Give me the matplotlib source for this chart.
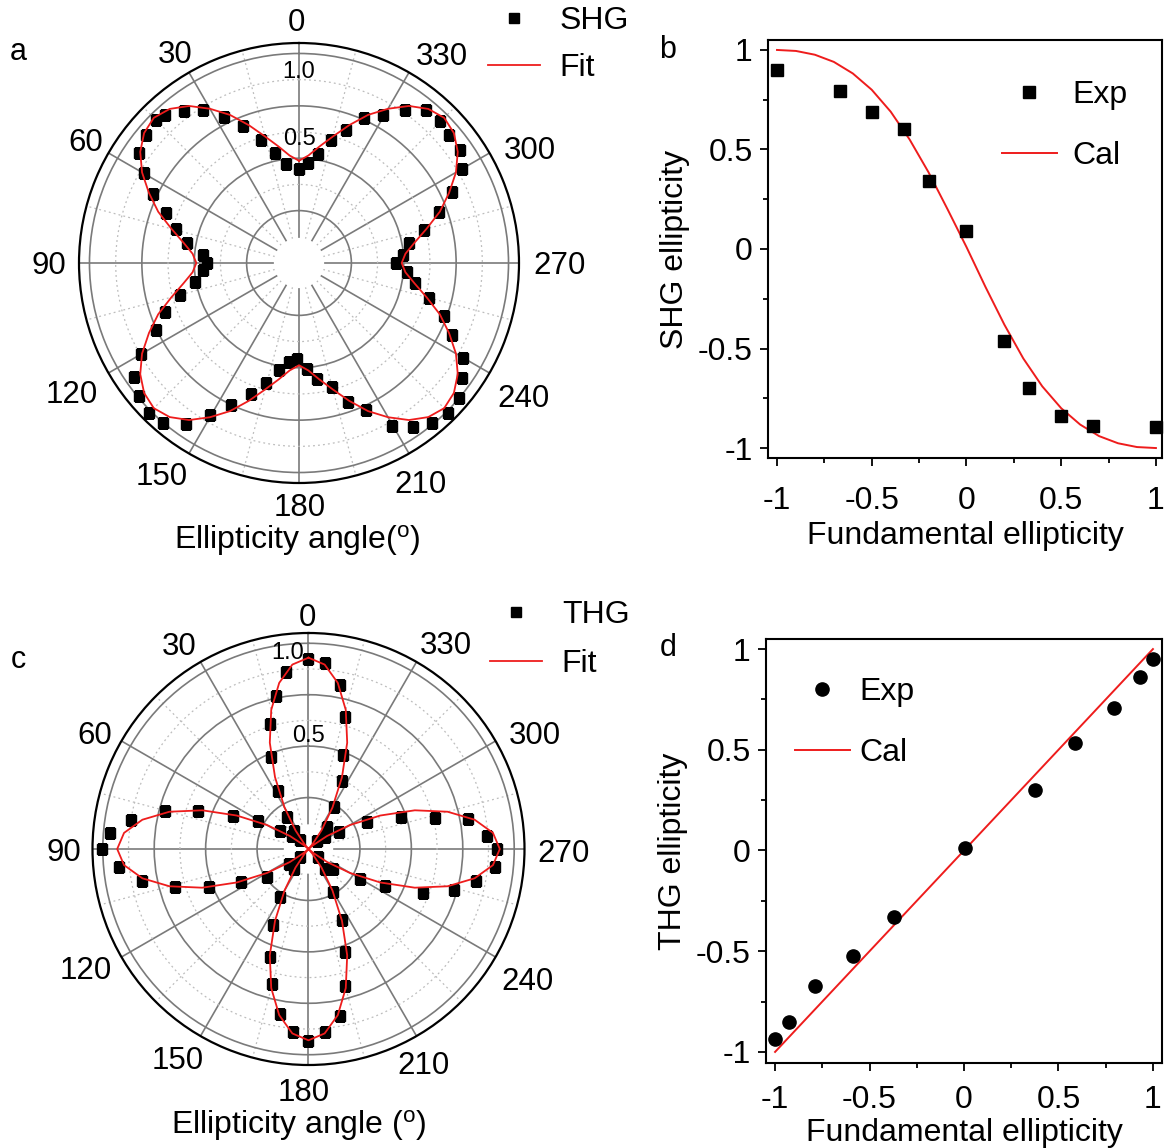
import numpy as np
import matplotlib
matplotlib.use("Agg")
import matplotlib.pyplot as plt
from matplotlib.ticker import FixedLocator, MultipleLocator, FuncFormatter
from matplotlib.lines import Line2D

plt.rcParams['font.family'] = ['Liberation Sans', 'DejaVu Sans']

# ---------------- data ----------------
# panel a: SHG polar (angle in degrees, normalized intensity)
shg_theta = [0, 7.5, 12.3, 17.2, 22.3, 27.2, 32.1, 37.2, 42.3, 45.1, 50.1, 55.3, 59.9, 64.7,
             69.5, 74.7, 79.8, 85.2, 90, 94.2, 100.2, 105, 110, 115.1, 119.9, 124.7, 129.8,
             134.9, 139.6, 144.8, 149.6, 154.6, 159.8, 164.6, 169.6, 174.4, 179, 184.2, 188.7,
             194.8, 199.6, 204.5, 209.6, 214.8, 219.7, 224.8, 229.8, 234.8, 239.8, 244.8, 249.9,
             254.7, 260, 265.4, 270, 274.4, 280.2, 284.9, 290.2, 295, 299.9, 305.2, 310.6,
             315.2, 320.3, 325.3, 330.5, 335.8, 340.6, 345.3, 350.4, 354.7]
shg_r = [0.448, 0.478, 0.536, 0.616, 0.709, 0.784, 0.861, 0.909, 0.952, 0.965, 0.954, 0.926,
         0.857, 0.771, 0.679, 0.61, 0.545, 0.46, 0.44, 0.459, 0.505, 0.59, 0.682, 0.756, 0.868,
         0.955, 0.991, 1.012, 1.003, 0.938, 0.843, 0.752, 0.664, 0.594, 0.521, 0.474, 0.456,
         0.505, 0.558, 0.612, 0.704, 0.773, 0.897, 0.954, 0.993, 1.01, 0.998, 0.952, 0.906,
         0.808, 0.735, 0.641, 0.563, 0.517, 0.463, 0.496, 0.535, 0.615, 0.71, 0.806, 0.898,
         0.938, 0.941, 0.953, 0.951, 0.89, 0.813, 0.759, 0.674, 0.608, 0.53, 0.479]
shg_fit_theta = list(range(0, 361, 5))
shg_fit_r = [0.488, 0.515, 0.565, 0.625, 0.70, 0.78, 0.85, 0.915, 0.96, 0.98, 0.965, 0.925,
             0.865, 0.79, 0.715, 0.63, 0.56, 0.51, 0.49, 0.51, 0.56, 0.63, 0.715, 0.79, 0.865,
             0.925, 0.965, 0.98, 0.96, 0.915, 0.85, 0.78, 0.70, 0.625, 0.565, 0.515, 0.488,
             0.515, 0.565, 0.625, 0.70, 0.78, 0.85, 0.915, 0.96, 0.98, 0.965, 0.925, 0.865,
             0.79, 0.715, 0.63, 0.56, 0.51, 0.49, 0.51, 0.56, 0.63, 0.715, 0.79, 0.865, 0.925,
             0.965, 0.98, 0.96, 0.915, 0.85, 0.78, 0.70, 0.625, 0.565, 0.515, 0.488]

# panel b: SHG ellipticity vs fundamental ellipticity
b_exp_x = [-1.0, -0.67, -0.5, -0.33, -0.2, 0.0, 0.2, 0.33, 0.5, 0.67, 1.0]
b_exp_y = [0.90, 0.796, 0.687, 0.602, 0.344, 0.088, -0.463, -0.699, -0.838, -0.891, -0.896]
b_cal_x = [-1.0, -0.9, -0.8, -0.7, -0.6, -0.5, -0.4, -0.3, -0.2, -0.1, 0.0,
           0.1, 0.2, 0.3, 0.4, 0.5, 0.6, 0.7, 0.8, 0.9, 1.0]
b_cal_y = [1.0, 0.995, 0.976, 0.94, 0.882, 0.80, 0.69, 0.55, 0.385, 0.20, 0.01,
           -0.19, -0.38, -0.55, -0.69, -0.80, -0.882, -0.94, -0.976, -0.995, -1.0]

# panel c: THG polar
thg_theta = [0, 7.2, 11.9, 17.3, 22.3, 27.5, 33.9, 39.3, 44, 52, 57.1, 61.4, 66.4, 71.0, 75.3,
             80.7, 85.5, 90, 95.5, 100.8, 105.8, 110.8, 116.3, 123.6, 127, 135, 143, 149.6,
             155, 160.4, 164.8, 170.3, 175.3, 180, 185.2, 190.7, 195, 199.6, 205.1, 210,
             219.9, 230.3, 231.3, 239.9, 244.4, 248.9, 254.3, 259.3, 264.6, 270, 274.3, 280.5,
             283.7, 288.9, 294.6, 299, 306, 315, 319.8, 328.7, 334, 339.6, 344.5, 349.1, 354.9]
thg_r = [0.922, 0.865, 0.76, 0.636, 0.481, 0.316, 0.189, 0.115, 0.06, 0.10, 0.164, 0.28, 0.40,
         0.57, 0.722, 0.874, 0.969, 1.003, 0.927, 0.824, 0.672, 0.516, 0.365, 0.243, 0.121,
         0.057, 0.12, 0.272, 0.41, 0.555, 0.679, 0.813, 0.893, 0.934, 0.894, 0.828, 0.687,
         0.532, 0.381, 0.24, 0.126, 0.063, 0.155, 0.29, 0.413, 0.598, 0.736, 0.831, 0.91,
         0.915, 0.868, 0.787, 0.633, 0.476, 0.311, 0.167, 0.10, 0.057, 0.138, 0.24, 0.369,
         0.487, 0.667, 0.81, 0.91]
thg_fit_theta = list(range(0, 361, 5))
thg_fit_r = [0.93, 0.90, 0.82, 0.70, 0.55, 0.385, 0.233, 0.11, 0.028, 0.0, 0.028, 0.11, 0.233,
             0.385, 0.55, 0.70, 0.82, 0.90, 0.93, 0.90, 0.82, 0.70, 0.55, 0.385, 0.233, 0.11,
             0.028, 0.0, 0.028, 0.11, 0.233, 0.385, 0.55, 0.70, 0.82, 0.90, 0.93, 0.90, 0.82,
             0.70, 0.55, 0.385, 0.233, 0.11, 0.028, 0.0, 0.028, 0.11, 0.233, 0.385, 0.55, 0.70,
             0.82, 0.90, 0.93, 0.90, 0.82, 0.70, 0.55, 0.385, 0.233, 0.11, 0.028, 0.0, 0.028,
             0.11, 0.233, 0.385, 0.55, 0.70, 0.82, 0.90, 0.93]

# panel d: THG ellipticity vs fundamental ellipticity
d_exp_x = [-1.0, -0.924, -0.787, -0.588, -0.373, 0.003, 0.378, 0.589, 0.792, 0.93, 1.0]
d_exp_y = [-0.937, -0.851, -0.672, -0.523, -0.328, 0.012, 0.301, 0.535, 0.705, 0.863, 0.95]
d_cal_x = [-1.0, 1.0]
d_cal_y = [-1.0, 1.0]

angle_ticks = [0, 30, 60, 90, 120, 150, 180, 210, 240, 270, 300, 330]
angle_labels = [str(a) for a in angle_ticks]
angle_minor = [15, 45, 75, 105, 135, 165, 195, 225, 255, 285, 315, 345]
ring_major = [0.25, 0.5, 0.75, 1.0]
ring_minor = [0.375, 0.625, 0.875]

# placement of the angle labels (pixel offset of label centre from the rim point)
a_label_off = [(-3, -23), (-13.5, -20.5), (-23, -13), (-30, 0), (-37, 19), (-27, 20.5),
               (1, 22), (11, 28), (34, 23), (41, 0), (40.5, -5.5), (32.7, -18.5)]
c_label_off = [(-1.5, -18), (-21, -18), (-26.4, -8.5), (-28.5, 1), (-35.4, 11), (-22.5, 22),
               (-4.5, 25), (7.5, 26.5), (32, 22), (39.5, 2), (39.4, -8.5), (29.5, -19)]

W, H = 1169, 1148
fig = plt.figure(figsize=(W / 100, H / 100), dpi=100)

RED = '#ee1c1c'
FS = 23
PFS = 22.5
RMAX = 1.05


def frac(x0, y0, x1, y1):
    return [x0 / W, 1 - y1 / H, (x1 - x0) / W, (y1 - y0) / H]


def polar_panel(x0, y0, size, offsets):
    ax = fig.add_axes(frac(x0, y0, x0 + size, y0 + size), projection='polar')
    ax.set_theta_zero_location('N')
    ax.set_theta_direction(1)
    ax.set_axisbelow(True)
    ax.bar(0, 0.12, width=2 * np.pi, bottom=0, color='white', lw=0, zorder=1)
    ax.set_xticks(np.deg2rad(angle_ticks))
    ax.set_xticklabels([])
    ax.xaxis.set_minor_locator(FixedLocator(np.deg2rad(angle_minor)))
    ax.set_yticks(ring_major)
    ax.set_yticklabels([])
    ax.yaxis.set_minor_locator(FixedLocator(ring_minor))
    ax.grid(which='major', color='#7a7a7a', lw=1.2, ls='-')
    ax.grid(which='minor', color='#bdbdbd', lw=0.9, ls=(0, (1.5, 2.5)))
    ax.tick_params(axis='x', which='major', direction='in', length=7, width=1.1)
    ax.tick_params(axis='x', which='minor', direction='in', length=5, width=1.1)
    ax.tick_params(axis='y', which='both', length=0)
    ax.spines['polar'].set_linewidth(1.6)
    ax.set_rlim(0, RMAX)
    hh = 0.358 * PFS / 0.72
    for a, lab, (ox, oy) in zip(angle_ticks, angle_labels, offsets):
        ax.annotate(lab, xy=(np.deg2rad(a), RMAX),
                    xytext=(ox * 0.72, (-oy - hh) * 0.72),
                    textcoords='offset points', ha='center', va='baseline',
                    fontsize=PFS, annotation_clip=False)
    return ax


def cart_panel(rect, xlim, ylim, xpad):
    ax = fig.add_axes(rect)
    ax.set_xlim(*xlim)
    ax.set_ylim(*ylim)
    for s in ax.spines.values():
        s.set_linewidth(1.5)
    for axis in (ax.xaxis, ax.yaxis):
        axis.set_major_locator(MultipleLocator(0.5))
        axis.set_minor_locator(MultipleLocator(0.25))
        axis.set_major_formatter(FuncFormatter(lambda v, p: ('%g' % v)))
    ax.tick_params(which='major', direction='out', length=6, width=1.3, labelsize=FS)
    ax.tick_params(which='minor', direction='out', length=3.5, width=1.3)
    ax.tick_params(axis='x', which='major', pad=xpad)
    ax.tick_params(axis='y', which='major', pad=5)
    return ax


# ---- panel a ----
axa = polar_panel(79, 43, 440, a_label_off)
axa.plot(np.deg2rad(shg_theta), shg_r, 's', color='black', ms=6.5, zorder=3)
axa.plot(np.deg2rad(shg_fit_theta), shg_fit_r, color=RED, lw=1.3, zorder=4)
axa.text(0, 0.91, '1.0', ha='center', va='center', fontsize=17, zorder=5)
axa.text(0, 0.59, '0.5', ha='center', va='center', fontsize=17, zorder=5)
fig.text(297 / W, 1 - 549 / H, 'Ellipticity angle($\\mathregular{^o}$)', ha='center',
         va='baseline', fontsize=FS)
fig.legend([Line2D([], [], ls='none', marker='s', color='black', ms=6.5),
            Line2D([], [], color=RED, lw=1.3)], ['SHG', 'Fit'],
           loc='upper left', bbox_to_anchor=(488 / W, 1 - 6 / H), frameon=False,
           fontsize=FS, handlelength=1.63, handletextpad=0.62, labelspacing=0.53,
           borderpad=0, borderaxespad=0)

# ---- panel c ----
axc = polar_panel(92.5, 633, 432, c_label_off)
axc.plot(np.deg2rad(thg_theta), thg_r, 's', color='black', ms=6.5, zorder=3)
axc.plot(np.deg2rad(thg_fit_theta), thg_fit_r, color=RED, lw=1.3, zorder=4)
axc.text(np.deg2rad(6), 0.96, '1.0', ha='center', va='center', fontsize=17, zorder=5)
axc.text(0, 0.55, '0.5', ha='center', va='center', fontsize=17, zorder=5)
fig.text(299 / W, 1 - 1134 / H, 'Ellipticity angle ($\\mathregular{^o}$)', ha='center',
         va='baseline', fontsize=FS)
fig.legend([Line2D([], [], ls='none', marker='s', color='black', ms=6.5),
            Line2D([], [], color=RED, lw=1.3)], ['THG', 'Fit'],
           loc='upper left', bbox_to_anchor=(490 / W, 1 - 600 / H), frameon=False,
           fontsize=FS, handlelength=1.63, handletextpad=0.62, labelspacing=0.59,
           borderpad=0, borderaxespad=0)

# ---- panel b ----
axb = cart_panel(frac(768, 40, 1162, 458), (-1.0475, 1.032), (-1.05, 1.05), 14)
axb.plot(b_cal_x, b_cal_y, color=RED, lw=1.4, label='Cal', zorder=2)
axb.plot(b_exp_x, b_exp_y, 's', color='black', ms=8.5, label='Exp', zorder=3, clip_on=False)
axb.set_xlabel('Fundamental ellipticity', fontsize=FS, labelpad=4)
axb.set_ylabel('SHG ellipticity', fontsize=FS, labelpad=6)
hb, lb = axb.get_legend_handles_labels()
fig.legend([hb[1], hb[0]], [lb[1], lb[0]], loc='upper left',
           bbox_to_anchor=(1002 / W, 1 - 80 / H), frameon=False, fontsize=FS,
           handlelength=1.72, handletextpad=0.47, labelspacing=0.97, borderpad=0,
           borderaxespad=0)

# ---- panel d ----
axd = cart_panel(frac(766, 639, 1162, 1063), (-1.048, 1.048), (-1.055, 1.05), 10)
axd.plot(d_cal_x, d_cal_y, color=RED, lw=1.4, label='Cal', zorder=2)
axd.plot(d_exp_x, d_exp_y, 'o', color='black', ms=9.5, label='Exp', zorder=3, clip_on=False)
axd.set_xlabel('Fundamental ellipticity', fontsize=FS, labelpad=2)
axd.set_ylabel('THG ellipticity', fontsize=FS, labelpad=6)
hd, ld = axd.get_legend_handles_labels()
fig.legend([hd[1], hd[0]], [ld[1], ld[0]], loc='upper left',
           bbox_to_anchor=(795 / W, 1 - 677 / H), frameon=False, fontsize=FS,
           handlelength=1.72, handletextpad=0.31, labelspacing=0.97, borderpad=0,
           borderaxespad=0)

# panel letters
for letter, x, y in [('a', 18, 52), ('b', 668, 50), ('c', 18, 660), ('d', 668, 648)]:
    fig.text(x / W, 1 - y / H, letter, ha='center', va='center', fontsize=22)

fig.savefig('out.png', dpi=100)
